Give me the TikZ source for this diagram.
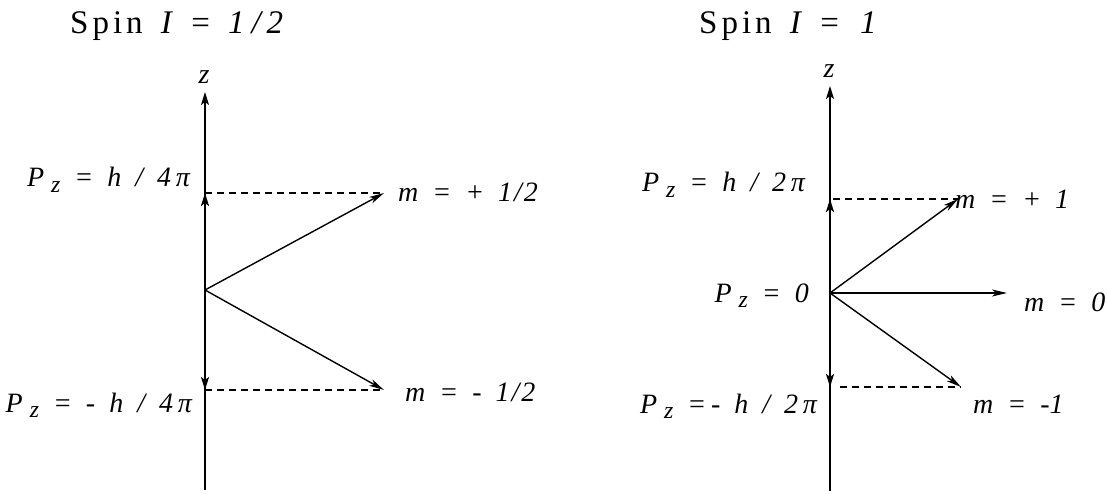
\documentclass[tikz,border=0pt]{standalone}
\usepackage{fontspec}
\setmainfont{Liberation Serif}
\usepackage{graphicx}
\usepackage{tikz}
\usetikzlibrary{arrows.meta, positioning}

\newcommand{\gp}{\hspace{0.5em}}
\newcommand{\tgp}{\hspace{0.55em}}
\newcommand{\Pz}{P\kern0.25em\raisebox{-0.4ex}{\scalebox{0.85}{z}}}

\begin{document}
\begin{tikzpicture}[
    x=1pt, y=-1pt,
    axis/.style={line width=1.5pt, -{Stealth[length=13pt, width=8pt, inset=3pt]}},
    level/.style={line width=2.1pt, -{Stealth[length=13pt, width=8pt, inset=3pt]}},
    vec/.style={line width=1.4pt, -{Stealth[length=15pt, width=7pt, inset=4pt]}},
    lvl/.style={line width=1.1pt, dash pattern=on 7pt off 5pt},
    lbl/.style={inner sep=0pt, font=\fontsize{28}{33}\selectfont\itshape},
    ttl/.style={inner sep=0pt, font=\fontsize{33}{38}\selectfont}
  ]
  \useasboundingbox (0,0) rectangle (1107,494);

  % spin 1/2
  \coordinate (Aorig) at (205,290);
  \coordinate (Abot) at (205,490);
  \coordinate (Atop) at (205,92);
  \coordinate (Aup) at (205,193);
  \coordinate (Adn) at (205,390);
  \coordinate (Amp) at (384,193);
  \coordinate (Amm) at (384,390);

  \node[ttl, anchor=base west] (Atitle) at (70,34)
    {S\kern4pt p\kern4pt i\kern4pt n\tgp\textit{I}\tgp=\tgp\textit{1\kern7pt/\kern6pt2}};
  \node[lbl, anchor=base] (Az) at (204,84) {z};

  \draw[axis] (Abot) -- (Atop);
  \draw[level] (Aorig) -- (Aup);
  \draw[level] (Aorig) -- (Adn);
  \draw[lvl] (Aup) -- (Amp);
  \draw[lvl] (Adn) -- (Amm);
  \draw[vec] (Aorig) -- (Amp);
  \draw[vec] (Aorig) -- (Amm);

  \node[lbl, anchor=base east] (AupL) at (190,187) {\Pz\gp=\gp h\gp/\gp4\,π};
  \node[lbl, anchor=base east] (AdnL) at (192,412) {\Pz\gp=\gp-\gp h\gp/\gp4\,π};
  \node[lbl, anchor=base west] (AmpL) at (398,202) {m\gp=\gp+\gp1\kern2pt/\kern2pt2};
  \node[lbl, anchor=base west] (AmmL) at (405,401) {m\gp=\gp-\gp1\kern2pt/\kern2pt2};

  % spin 1
  \coordinate (Borig) at (830,293);
  \coordinate (Bbot) at (830,491);
  \coordinate (Btop) at (830,86);
  \coordinate (Bup) at (830,199);
  \coordinate (Bdn) at (830,387);
  \coordinate (Bmp) at (958,199);
  \coordinate (Bmz) at (1007,293);
  \coordinate (Bmm) at (961,387);

  \node[ttl, anchor=base west] (Btitle) at (699,34)
    {S\kern4pt p\kern4pt i\kern4pt n\tgp\textit{I}\tgp=\tgp\kern3pt\textit{1}};
  \node[lbl, anchor=base] (Bz) at (829,78) {z};

  \draw[axis] (Bbot) -- (Btop);
  \draw[level] (Borig) -- (Bup);
  \draw[level] (Borig) -- (Bdn);
  \draw[lvl, shorten <=3pt] (Bup) -- (Bmp);
  \draw[lvl, shorten <=10pt] (Bdn) -- (Bmm);
  \draw[vec] (Borig) -- (Bmp);
  \draw[vec] (Borig) -- (Bmz);
  \draw[vec] (Borig) -- (Bmm);

  \node[lbl, anchor=base east] (BupL) at (805,192) {\Pz\gp=\gp h\gp/\gp2\,π};
  \node[lbl, anchor=base east] (BorigL) at (809,302) {\Pz\gp=\gp0};
  \node[lbl, anchor=base east] (BdnL) at (817,413) {\Pz\gp=\,-\gp h\gp/\gp2\,π};
  \node[lbl, anchor=base west] (BmpL) at (955,209) {m\gp=\gp+\gp1};
  \node[lbl, anchor=base west] (BmzL) at (1024,311) {m\gp=\gp0};
  \node[lbl, anchor=base west] (BmmL) at (973,413) {m\gp=\gp-1};

\end{tikzpicture}
\end{document}
